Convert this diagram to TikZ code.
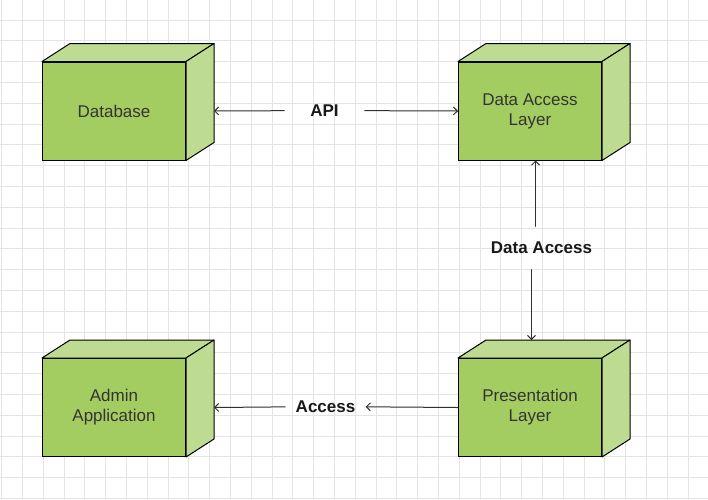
\documentclass[tikz,border=0pt]{standalone}
\usepackage{fontspec}
\setmainfont{Liberation Sans}
\usetikzlibrary{arrows.meta}
\definecolor{frontgreen}{HTML}{A4CD61}
\definecolor{sidegreen}{HTML}{BDDC91}
\definecolor{gridgray}{HTML}{E4E4E4}
\definecolor{edgegray}{HTML}{303030}
\definecolor{txtgray}{HTML}{333333}

\tikzset{
	box/.style={draw=black,line width=1pt,fill=frontgreen,minimum width=143pt,minimum height=98pt,inner sep=0pt,
		align=center,text=txtgray,font=\fontsize{17}{20}\selectfont},
	face/.style={draw=black,line width=1pt,fill=sidegreen,line join=round},
	lbl/.style={font=\fontsize{17}{20}\selectfont\bfseries,text=black!90,minimum width=80pt,minimum height=43pt,inner sep=0pt},
	conn/.style={draw=edgegray,line width=1pt,-{Straight Barb[length=4pt,width=8pt]}}
}

\begin{document}
\begin{tikzpicture}[x=1pt,y=-1pt,line cap=round]
		\useasboundingbox (0,0) rectangle (708,499);
		\fill[white] (0,0) rectangle (708,499);
		% grid
		\foreach \k in {0,...,33}
			\draw[gridgray,line width=1pt] (1.7+20.8*\k,0) -- (1.7+20.8*\k,499);
		\foreach \k in {1,...,24}
			\draw[gridgray,line width=1pt] (0,-0.8+20.8*\k) -- (708,-0.8+20.8*\k);
		% nodes
		\node[box] (db) at (114,111) {Database};
		\node[box] (dal) at (530,111) {Data Access\\Layer};
		\node[box] (adm) at (114,407.5) {Admin\\Application};
		\node[box] (pres) at (530,407.5) {Presentation\\Layer};
		\foreach \n in {db,dal,adm,pres} {
			\draw[face] (\n.north west) -- ++(28,-18) -- ([shift={(28pt,18pt)}]\n.north east) -- (\n.north east) -- cycle;
			\draw[face] (\n.north east) -- ++(28,-18) -- ([shift={(28pt,18pt)}]\n.south east) -- (\n.south east) -- cycle;
		}
		% labels
		\node[lbl] (api) at (324.5,110.5) {API};
		\node[lbl] (dacc) at (541.5,248) {Data Access};
		\node[lbl] (acc) at (325.5,406.5) {Access};
		\coordinate (prestop) at ([yshift=18pt]pres.north);
		% connectors
		\draw[conn] (api) -- ([xshift=28pt]db.east);
		\draw[conn] (api) -- (dal.west);
		\draw[conn] ([xshift=-6pt]dacc.north) -- ([xshift=-6pt]dacc.north |- dal.south);
		\draw[conn] ([xshift=-10pt]dacc.south) -- ([xshift=-10pt]dacc.south |- prestop);
		\draw[conn] (pres.west) -- (acc);
		\draw[conn] (acc) -- ([xshift=28pt]adm.east);
	\end{tikzpicture}
\end{document}
